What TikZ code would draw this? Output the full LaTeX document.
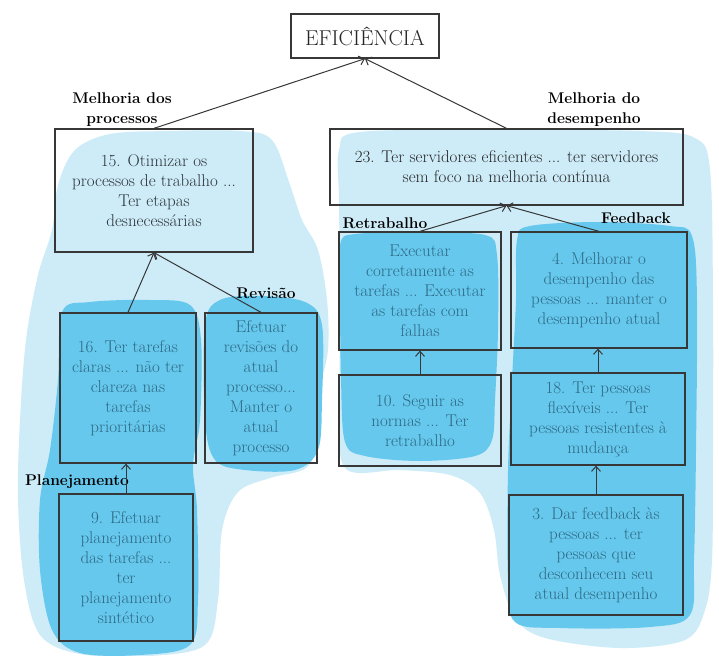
\documentclass[tikz,border=0pt]{standalone}
\usetikzlibrary{arrows.meta}
\definecolor{lightblob}{RGB}{205,236,248}
\definecolor{darkblob}{RGB}{102,200,237}
\definecolor{boxline}{RGB}{55,55,55}
\definecolor{bluetext}{RGB}{45,105,132}
\definecolor{graytext}{RGB}{45,50,55}
\begin{document}
\begin{tikzpicture}[x=1pt,y=-1pt,
  box/.style={draw=boxline,line width=1.3pt,inner sep=0pt,align=center,
    font=\fontsize{17}{20}\selectfont},
  bluebox/.style={box,text=bluetext},
  graybox/.style={box,text=graytext},
  lbl/.style={align=center,inner sep=0pt,font=\fontsize{15.5}{20}\selectfont\bfseries,text=black},
  conn/.style={draw=boxline,line width=1pt,-{Straight Barb[length=5pt,width=9pt]}},
  lblob/.style={fill=lightblob,draw=none},
  dblob/.style={fill=darkblob,draw=none}]
\path[use as bounding box] (0,0) rectangle (719,655);
\fill[white] (0,0) rectangle (719,655);

% light highlight areas
\path[lblob] plot[smooth cycle,tension=0.55] coordinates {
  (58,185) (75,150) (110,134) (170,131) (240,131) (272,140) (290,185)
  (302,220) (318,250) (327,300) (328,350) (320,390) (318,440) (306,468)
  (270,478) (238,492) (222,530) (218,600) (205,645) (150,656) (80,654)
  (40,635) (24,580) (18,500) (20,420) (26,340) (38,275) (52,230)};
\path[lblob] plot[smooth cycle,tension=0.55] coordinates {
  (339,150) (360,132) (500,130) (640,131) (695,138) (710,170) (713,300)
  (713,450) (712,560) (705,610) (685,640) (620,648) (545,638) (515,618)
  (500,575) (494,530) (480,493) (450,475) (400,470) (345,468) (340,400)
  (340,300) (339,200)};

% dark highlight areas
\path[dblob] plot[smooth cycle,tension=0.55] coordinates {
  (62,312) (90,302) (150,300) (190,305) (201,340) (200,420) (193,465)
  (197,510) (198,600) (190,645) (140,655) (80,653) (52,630) (40,570)
  (40,500) (50,450) (58,380)};
\path[dblob] plot[smooth cycle,tension=0.55] coordinates {
  (205,325) (220,300) (260,296) (305,302) (322,325) (322,400) (318,450)
  (295,470) (245,470) (215,460) (205,420)};
\path[dblob] plot[smooth cycle,tension=0.55] coordinates {
  (340,245) (355,234) (420,233) (485,235) (497,255) (498,330) (495,400)
  (492,440) (475,456) (420,461) (365,456) (345,442) (341,380) (340,300)};
\path[dblob] plot[smooth cycle,tension=0.55] coordinates {
  (517,240) (530,226) (600,222) (670,226) (692,236) (697,300) (696,450)
  (694,560) (690,615) (650,627) (560,628) (515,622) (508,580) (508,470)
  (512,380) (516,300)};

% boxes
\node[box,text=black!85,minimum width=148pt,minimum height=44pt,
  font=\fontsize{21.5}{24}\selectfont] (E) at (365,36) {EFICIÊNCIA};
\node[graybox,minimum width=198pt,minimum height=123pt] (B15) at (154,190.5)
  {15. Otimizar os\\processos de trabalho ...\\Ter etapas\\desnecessárias};
\node[graybox,text=black!85,minimum width=353pt,minimum height=76pt] (B23) at (506.5,167)
  {23. Ter servidores eficientes ... ter servidores\\sem foco na melhoria contínua};
\node[bluebox,minimum width=136pt,minimum height=150pt] (B16) at (128,388)
  {16. Ter tarefas\\claras ... não ter\\clareza nas\\tarefas\\prioritárias};
\node[bluebox,minimum width=112pt,minimum height=150pt] (BR) at (261,388)
  {Efetuar\\revisões do\\atual\\processo...\\Manter o\\atual\\processo};
\node[bluebox,minimum width=134pt,minimum height=147pt] (B9) at (126,567.5)
  {9. Efetuar\\planejamento\\das tarefas ...\\ter\\planejamento\\sintético};
\node[bluebox,minimum width=162pt,minimum height=118pt] (RT) at (420,291)
  {Executar\\corretamente as\\tarefas ... Executar\\as tarefas com\\falhas};
\node[bluebox,minimum width=162pt,minimum height=91pt] (B10) at (420,420.5)
  {10. Seguir as\\normas ... Ter\\retrabalho};
\node[bluebox,minimum width=176pt,minimum height=116pt] (B4) at (599,290)
  {4. Melhorar o\\desempenho das\\pessoas ... manter o\\desempenho atual};
\node[bluebox,minimum width=174pt,minimum height=92pt] (B18) at (598,419)
  {18. Ter pessoas\\flexíveis ... Ter\\pessoas resistentes à\\mudança};
\node[bluebox,minimum width=174pt,minimum height=120pt] (B3) at (596,555)
  {3. Dar feedback às\\pessoas ... ter\\pessoas que\\desconhecem seu\\atual desempenho};

% labels
\node[lbl] (L1) at (122,110) {Melhoria dos\\processos};
\node[lbl] (L2) at (594,110) {Melhoria do\\desempenho};
\node[lbl] (L3) at (385,223) {Retrabalho};
\node[lbl] (L4) at (636,218) {Feedback};
\node[lbl] (L5) at (266,293) {Revisão};
\node[lbl] (L6) at (77,482) {Planejamento};

% connectors
\draw[conn] (B15.north) -- (E.south);
\draw[conn] (B23.north) -- (E.south);
\draw[conn] (B16.north) -- (B15.south);
\draw[conn] (BR.north) -- (B15.south);
\draw[conn] (B9.north) -- (B9.north |- B16.south);
\draw[conn] (RT.north) -- (B23.south);
\draw[conn] (B4.north) -- (B23.south);
\draw[conn] (B10.north) -- (RT.south);
\draw[conn] (B18.north) -- (B18.north |- B4.south);
\draw[conn] (B3.north) -- (B3.north |- B18.south);
\end{tikzpicture}
\end{document}
